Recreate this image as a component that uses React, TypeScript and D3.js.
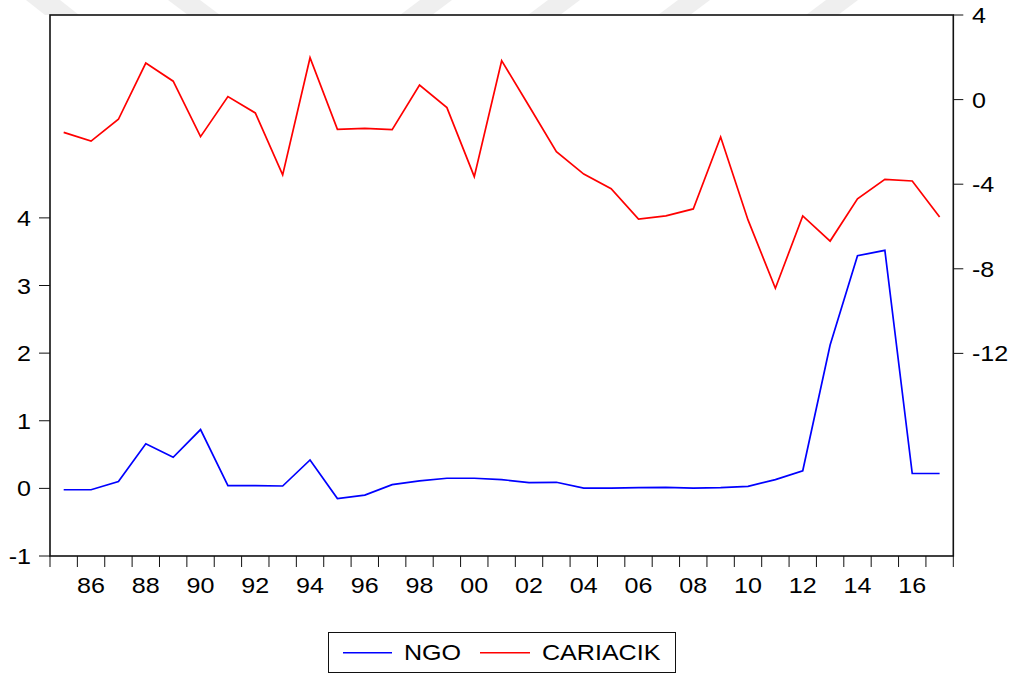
import React from "react";
import * as d3 from "d3";

const years: number[] = d3.range(1985, 2018);

const ngo: number[] = [
  -0.02, -0.02, 0.1, 0.66, 0.46, 0.87, 0.04, 0.04, 0.035, 0.42,
  -0.15, -0.1, 0.055, 0.11, 0.15, 0.15, 0.13, 0.085, 0.09, 0.005,
  0.005, 0.01, 0.015, 0.005, 0.01, 0.03, 0.13, 0.26, 2.12, 3.44,
  3.52, 0.22, 0.22,
];

const cariacik: number[] = [
  -1.55, -1.96, -0.93, 1.73, 0.87, -1.75, 0.14, -0.63, -3.56, 1.98,
  -1.41, -1.36, -1.42, 0.69, -0.38, -3.64, 1.84, -0.3, -2.46, -3.52,
  -4.21, -5.65, -5.5, -5.17, -1.77, -5.69, -8.92, -5.5, -6.69, -4.69,
  -3.77, -3.85, -5.55,
];

const leftTicks: number[] = [-1, 0, 1, 2, 3, 4];
const rightTicks: number[] = [-12, -8, -4, 0, 4];
const labelYears: number[] = d3.range(1986, 2017, 2);
const seriesNames: string[] = ["NGO", "CARIACIK"];
const seriesColors: string[] = ["#0000ff", "#ff0000"];

const W = 1011;
const H = 675;
const L = 50;
const R = 953.3;
const T = 15;
const B = 556;
const FONT = "'Liberation Sans', Arial, sans-serif";
const FS = 22;
const SX = 1.14;

export default function App() {
  const x = d3.scaleLinear().domain([1984.5, 2017.5]).range([L, R]);
  const yL = d3.scaleLinear().domain([-1, 7]).range([B, T]);
  const yR = d3.scaleLinear().domain([-21.58, 4]).range([B, T]);

  const lineL = d3
    .line<number>()
    .x((_, i) => x(years[i]))
    .y((d) => yL(d));
  const lineR = d3
    .line<number>()
    .x((_, i) => x(years[i]))
    .y((d) => yR(d));

  const boundaries = d3.range(1984.5, 2018, 1);

  const txt = (
    key: string,
    tx: number,
    ty: number,
    s: string,
    anchor: "start" | "middle" | "end"
  ) => (
    <text
      key={key}
      transform={`translate(${tx},${ty}) scale(${SX},1)`}
      textAnchor={anchor}
      fontFamily={FONT}
      fontSize={FS}
      fill="#000"
    >
      {s}
    </text>
  );

  const stripes: [number, number, number][] = [
    [26, 60, 19],
    [168, 200, 20],
    [420, 452, -20],
    [548, 580, -20],
    [678, 710, -20],
    [826, 858, -20],
  ];

  return (
    <svg
      width={W}
      height={H}
      style={{ position: "absolute", left: 0, top: 0, background: "#fff" }}
    >
      <rect x={0} y={0} width={W} height={H} fill="#fff" />
      {stripes.map(([a, b, dx], i) => (
        <polygon
          key={"s" + i}
          points={`${a},0 ${b},0 ${b + dx},${T} ${a + dx},${T}`}
          fill="#efefef"
        />
      ))}
      <rect
        x={L}
        y={T}
        width={R - L}
        height={B - T}
        fill="none"
        stroke="#111"
        strokeWidth={1.6}
      />
      {leftTicks.map((v) => (
        <g key={"l" + v}>
          <line x1={L - 11} x2={L} y1={yL(v)} y2={yL(v)} stroke="#111" strokeWidth={1} />
          {txt("lt" + v, 31, yL(v) + 8, String(v), "end")}
        </g>
      ))}
      {rightTicks.map((v) => (
        <g key={"r" + v}>
          <line x1={R} x2={R + 10} y1={yR(v)} y2={yR(v)} stroke="#111" strokeWidth={1} />
          {txt("rt" + v, 972, yR(v) + 8, String(v), "start")}
        </g>
      ))}
      {boundaries.map((b) => (
        <line
          key={"b" + b}
          x1={x(b)}
          x2={x(b)}
          y1={B}
          y2={B + 11}
          stroke="#111"
          strokeWidth={1}
        />
      ))}
      {labelYears.map((yr) =>
        txt("bl" + yr, x(yr), 592.5, String(yr % 100).padStart(2, "0"), "middle")
      )}
      <path d={lineR(cariacik) || ""} fill="none" stroke={seriesColors[1]} strokeWidth={1.7} />
      <path d={lineL(ngo) || ""} fill="none" stroke={seriesColors[0]} strokeWidth={1.7} />
      <rect x={328.5} y={632.5} width={347} height={40} fill="#fff" stroke="#111" strokeWidth={1} />
      <line x1={343} x2={392} y1={652.7} y2={652.7} stroke={seriesColors[0]} strokeWidth={1.5} />
      {txt("lg0", 404, 660, seriesNames[0], "start")}
      <line x1={480} x2={530} y1={652.7} y2={652.7} stroke={seriesColors[1]} strokeWidth={1.5} />
      {txt("lg1", 542, 660, seriesNames[1], "start")}
    </svg>
  );
}
